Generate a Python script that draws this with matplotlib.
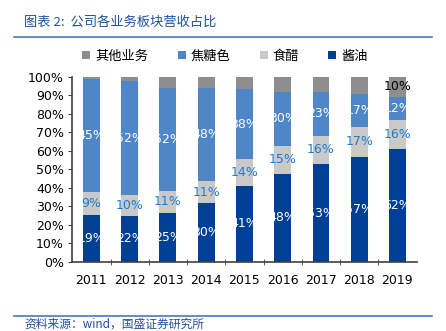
import numpy as np
import matplotlib
matplotlib.use("Agg")
import matplotlib.pyplot as plt
from matplotlib.lines import Line2D

plt.rcParams['font.family'] = ['DejaVu Sans', 'Noto Sans CJK SC']

years = ['2011', '2012', '2013', '2014', '2015', '2016', '2017', '2018', '2019']
# segment heights (%)
soy = [25.4, 24.9, 26.7, 31.7, 41.1, 47.6, 52.8, 56.6, 61.3]
vinegar = [12.3, 11.3, 11.7, 12.1, 14.4, 15.1, 15.5, 16.6, 15.5]
caramel = [61.1, 61.6, 55.8, 50.4, 37.8, 29.4, 23.8, 17.6, 12.6]
other = [100 - a - b - c for a, b, c in zip(soy, vinegar, caramel)]

# labels as printed on the chart
soy_lbl = ['19%', '22%', '25%', '30%', '41%', '48%', '53%', '57%', '62%']
vinegar_lbl = ['9%', '10%', '11%', '11%', '14%', '15%', '16%', '17%', '16%']
caramel_lbl = ['45%', '52%', '52%', '48%', '38%', '30%', '23%', '17%', '12%']
other_lbl = ['', '', '', '', '', '', '', '', '10%']

c_soy = '#003F96'
c_vin = '#C9C9C9'
c_car = '#4E86C7'
c_oth = '#8E8E8E'
blue_txt = '#1E4F9C'

fig = plt.figure(figsize=(4.46, 3.31), dpi=100)
ax = fig.add_axes([0.162, 0.2085, 0.772, 0.559])

x = np.arange(len(years))
w = 0.44
b1 = ax.bar(x, soy, w, color=c_soy)
b2 = ax.bar(x, vinegar, w, bottom=soy, color=c_vin)
bot3 = np.array(soy) + np.array(vinegar)
b3 = ax.bar(x, caramel, w, bottom=bot3, color=c_car)
bot4 = bot3 + np.array(caramel)
b4 = ax.bar(x, other, w, bottom=bot4, color=c_oth)

fs = 9
for i in range(len(years)):
    ax.text(x[i], soy[i] / 2, soy_lbl[i], ha='center', va='center', color='white', fontsize=fs)
    ax.text(x[i], soy[i] + vinegar[i] / 2, vinegar_lbl[i], ha='center', va='center',
            color='#1F7BC8', fontsize=fs)
    ax.text(x[i], bot3[i] + caramel[i] / 2, caramel_lbl[i], ha='center', va='center',
            color='white', fontsize=fs)
    if other_lbl[i]:
        ax.text(x[i], bot4[i] + other[i] / 2, other_lbl[i], ha='center', va='center',
                color='black', fontsize=fs)

ax.set_xlim(-0.5, len(years) - 0.5)
ax.set_ylim(0, 100)
ax.set_yticks(np.arange(0, 101, 10))
ax.set_yticklabels([f'{v}%' for v in range(0, 101, 10)], fontsize=fs)
ax.set_xticks(x)
ax.set_xticklabels(years, fontsize=fs)
ax.tick_params(axis='x', length=0, pad=9)
ax.set_xticks(np.arange(0.5, len(years) - 0.5, 1), minor=True)
ax.tick_params(axis='x', which='minor', length=4, direction='inout', color='#404040')
ax.tick_params(axis='y', length=3, color='#404040', pad=3)
for s in ['top', 'right']:
    ax.spines[s].set_visible(False)
for s in ['left', 'bottom']:
    ax.spines[s].set_color('#404040')
    ax.spines[s].set_linewidth(1.2)

# legend
handles = [b4, b3, b2, b1]
names = ['其他业务', '焦糖色', '食醋', '酱油']
fig.legend(handles, names, loc='center', bbox_to_anchor=(0.505, 0.83), ncol=4,
           frameon=False, handlelength=0.6, handleheight=0.6,
           handletextpad=0.4, columnspacing=2.2, prop={'family': 'Noto Sans CJK SC', 'size': 9.5})

# title and footer
fig.text(0.054, 0.933, '图表 2:  公司各业务板块营收占比', fontsize=9.5, color=blue_txt,
         family='Noto Sans CJK SC', va='center', style='italic')
fig.add_artist(Line2D([0.031, 0.969], [0.888, 0.888], color='#4A78B8', lw=1.2))
fig.add_artist(Line2D([0.031, 0.969], [0.045, 0.045], color='#4A78B8', lw=1.2))
fig.text(0.054, 0.022, '资料来源：wind，国盛证券研究所', fontsize=8.5, color=blue_txt,
         family=['Noto Sans CJK SC', 'DejaVu Sans'], va='center', style='italic')

fig.savefig('out.png', dpi=100)
